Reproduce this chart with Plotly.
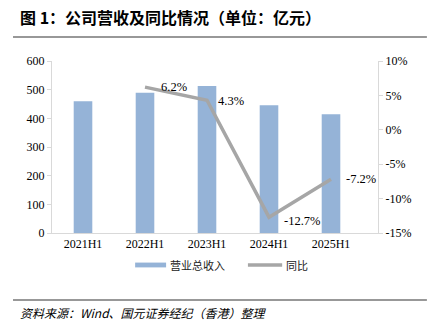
import plotly.graph_objects as go

# 营收（亿元）及同比增速（%）
periods = ["2021H1", "2022H1", "2023H1", "2024H1", "2025H1"]
revenue = [460, 489, 513, 446, 414]
yoy_periods = ["2022H1", "2023H1", "2024H1", "2025H1"]
yoy = [6.2, 4.3, -12.7, -7.2]
yoy_labels = ["6.2%", "4.3%", "-12.7%", "-7.2%"]

left_ticks = [0, 100, 200, 300, 400, 500, 600]
right_ticks = [-15, -10, -5, 0, 5, 10]
right_tick_text = ["-15%", "-10%", "-5%", "0%", "5%", "10%"]

SERIF = "Liberation Serif"
CJK = "Noto Sans CJK SC"
AXIS_GRAY = "#d9d9d9"
BAR_BLUE = "#95b3d7"
LINE_GRAY = "#a6a6a6"

fig = go.Figure()
fig.add_trace(go.Bar(
    x=periods, y=revenue, name="营业总收入",
    marker=dict(color=BAR_BLUE, line=dict(width=0)),
    width=0.3, yaxis="y", showlegend=False,
))
fig.add_trace(go.Scatter(
    x=yoy_periods, y=yoy, name="同比", mode="lines",
    line=dict(color=LINE_GRAY, width=3.5), yaxis="y2", showlegend=False,
))

# 数据标签
label_shift = [(14, 0), (9, -1), (13, -4), (13, 0)]
for xv, yv, txt, (dx, dy) in zip(yoy_periods, yoy, yoy_labels, label_shift):
    fig.add_annotation(
        x=xv, y=yv, xref="x", yref="y2", text=txt, showarrow=False,
        xanchor="left", yanchor="middle", xshift=dx, yshift=dy,
        font=dict(family=SERIF, size=12.5, color="#000000"),
    )

# 图例（宽色块 + 灰线）
fig.add_shape(type="rect", xref="paper", yref="paper",
              x0=0.255, x1=0.350, y0=-0.172, y1=-0.200,
              fillcolor=BAR_BLUE, line=dict(width=0))
fig.add_annotation(x=0.356, y=-0.186, xref="paper", yref="paper",
                   text="营业总收入", showarrow=False,
                   xanchor="left", yanchor="middle",
                   font=dict(family=CJK, size=11, color="#222222"))
fig.add_shape(type="line", xref="paper", yref="paper",
              x0=0.601, x1=0.706, y0=-0.186, y1=-0.186,
              line=dict(color=LINE_GRAY, width=3.5))
fig.add_annotation(x=0.712, y=-0.186, xref="paper", yref="paper",
                   text="同比", showarrow=False,
                   xanchor="left", yanchor="middle",
                   font=dict(family=CJK, size=11, color="#222222"))

# 标题与来源
fig.add_annotation(
    x=-0.1043, y=1.256, xref="paper", yref="paper",
    text="<b>图 1：公司营收及同比情况（单位：亿元）</b>", showarrow=False,
    xanchor="left", yanchor="middle",
    font=dict(family=CJK, size=16, color="#000000"),
)
fig.add_shape(type="line", xref="paper", yref="paper",
              x0=-0.1196, x1=1.15, y0=1.1395, y1=1.1395,
              line=dict(color="#333333", width=1.2))
fig.add_shape(type="line", xref="paper", yref="paper",
              x0=-0.1196, x1=1.15, y0=-0.3895, y1=-0.3895,
              line=dict(color="#333333", width=1.2))
fig.add_annotation(
    x=-0.1043, y=-0.465, xref="paper", yref="paper",
    text="<i>资料来源：Wind、国元证券经纪（香港）整理</i>", showarrow=False,
    xanchor="left", yanchor="middle",
    font=dict(family=CJK, size=12, color="#000000"),
)

fig.update_layout(
    width=427, height=331,
    margin=dict(l=52, r=49, t=61, b=98),
    paper_bgcolor="white", plot_bgcolor="white",
    showlegend=False,
    bargap=0.7,
    xaxis=dict(
        type="category", categoryorder="array", categoryarray=periods,
        showline=True, linecolor=AXIS_GRAY, linewidth=1,
        showgrid=False, ticks="", zeroline=False,
        tickfont=dict(family=SERIF, size=12, color="#000000"),
    ),
    yaxis=dict(
        range=[0, 600], tickvals=left_ticks,
        showline=True, linecolor=AXIS_GRAY, linewidth=1,
        ticks="outside", ticklen=4, tickcolor=AXIS_GRAY,
        showgrid=False, zeroline=False,
        tickfont=dict(family=SERIF, size=12, color="#000000"),
    ),
    yaxis2=dict(
        overlaying="y", side="right", range=[-15, 10],
        tickmode="array", tickvals=right_ticks, ticktext=right_tick_text,
        showline=True, linecolor=AXIS_GRAY, linewidth=1,
        ticks="outside", ticklen=4, tickcolor=AXIS_GRAY,
        showgrid=False, zeroline=False,
        tickfont=dict(family=SERIF, size=12, color="#000000"),
    ),
)

fig.write_html("out.html")
